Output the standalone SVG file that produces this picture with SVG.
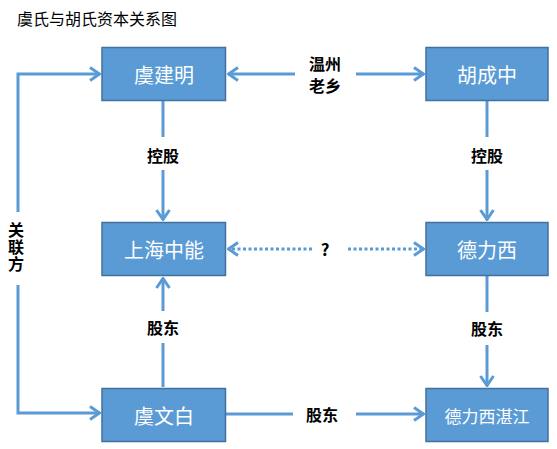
<svg xmlns="http://www.w3.org/2000/svg" width="557" height="449" viewBox="0 0 557 449">
<style>
.box{fill:#5B9BD5;stroke:#41719C;stroke-width:1.5}
.nt{fill:#fff;font-family:"Noto Sans CJK SC","Noto Sans",sans-serif;font-size:20px;text-anchor:middle;dominant-baseline:central}
.ln{fill:none;stroke:#5B9BD5;stroke-width:3}
.dot{stroke-dasharray:3 2.5}
.lb{fill:#000;font-family:"Noto Sans CJK SC","Noto Sans",sans-serif;font-size:16px;font-weight:bold;text-anchor:middle;dominant-baseline:central}
.vt{fill:#000;font-family:"Noto Sans CJK SC","Noto Sans",sans-serif;font-size:16px;font-weight:bold;writing-mode:vertical-rl;text-orientation:upright;letter-spacing:1px}
.t{fill:#000;font-family:"Noto Sans CJK SC","Noto Sans",sans-serif;font-size:16px}
</style>
<defs>
<marker id="ah" viewBox="0 0 12 16" refX="11" refY="8" markerWidth="12" markerHeight="16" markerUnits="userSpaceOnUse" orient="auto-start-reverse">
<path d="M1,1.5 L10.5,8 L1,14.5" fill="none" stroke="#5B9BD5" stroke-width="3"/>
</marker>
</defs>
<text class="t" x="17" y="25">虞氏与胡氏资本关系图</text>
<g id="connectors">
<path class="ln" d="M18,212 V74 H100" marker-end="url(#ah)"/>
<path class="ln" d="M18,285 V413 H100" marker-end="url(#ah)"/>
<text class="vt" x="16" y="222">关联方</text>
<path class="ln" d="M295,74 H228" marker-end="url(#ah)"/>
<path class="ln" d="M356,74 H424" marker-end="url(#ah)"/>
<text class="lb" x="325" y="63">温州</text>
<text class="lb" x="325" y="85">老乡</text>
<path class="ln" d="M163,101 V137"/>
<path class="ln" d="M163,170 V220" marker-end="url(#ah)"/>
<text class="lb" x="163" y="155">控股</text>
<path class="ln" d="M487,101 V137"/>
<path class="ln" d="M487,170 V220" marker-end="url(#ah)"/>
<text class="lb" x="487" y="155">控股</text>
<path class="ln dot" d="M312,249 H228" marker-end="url(#ah)"/>
<path class="ln dot" d="M348,249 H424" marker-end="url(#ah)"/>
<text class="lb" x="325" y="248" style="font-size:17px">?</text>
<path class="ln" d="M163,387 V343"/>
<path class="ln" d="M163,311 V278" marker-end="url(#ah)"/>
<text class="lb" x="163" y="327">股东</text>
<path class="ln" d="M487,276 V312"/>
<path class="ln" d="M487,345 V386" marker-end="url(#ah)"/>
<text class="lb" x="487" y="328">股东</text>
<path class="ln" d="M226,414 H293"/>
<path class="ln" d="M356,414 H424" marker-end="url(#ah)"/>
<text class="lb" x="322" y="414">股东</text>
</g>
<g id="n1"><rect class="box" x="102" y="47.5" width="123.5" height="53"/><text class="nt" x="164" y="74">虞建明</text></g>
<g id="n2"><rect class="box" x="426" y="47.5" width="122" height="53"/><text class="nt" x="487" y="74">胡成中</text></g>
<g id="n3"><rect class="box" x="102" y="222.5" width="123.5" height="53"/><text class="nt" x="164" y="249">上海中能</text></g>
<g id="n4"><rect class="box" x="426" y="222.5" width="122" height="53"/><text class="nt" x="487" y="249">德力西</text></g>
<g id="n5"><rect class="box" x="102" y="388.5" width="123.5" height="53"/><text class="nt" x="164" y="415">虞文白</text></g>
<g id="n6"><rect class="box" x="426" y="388.5" width="122" height="53"/><text class="nt" x="487" y="415" style="font-size:17px">德力西湛江</text></g>
</svg>
